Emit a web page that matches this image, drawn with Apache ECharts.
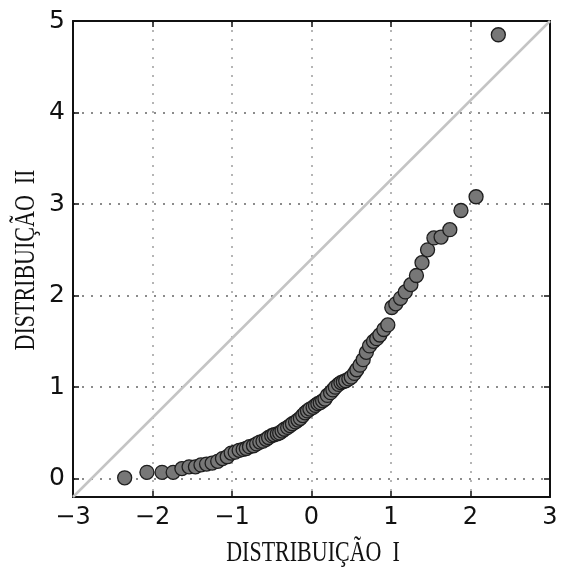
<!DOCTYPE html>
<html>
<head>
<meta charset="utf-8">
<script src="https://cdn.jsdelivr.net/npm/echarts@6/dist/echarts.min.js"></script>
<style>
html,body{margin:0;padding:0;background:#fff;}
#chart{width:563px;height:570px;}
</style>
</head>
<body>
<div id="chart"></div>
<script>
// Data
const xQuantiles = [-2.35,-2.07,-1.88,-1.74,-1.63,-1.54,-1.46,-1.39,-1.32,-1.25,-1.18,-1.12,-1.06,-1.01,-0.96,-0.91,-0.86,-0.82,-0.78,-0.73,-0.69,-0.65,-0.61,-0.57,-0.54,-0.50,-0.47,-0.43,-0.40,-0.37,-0.34,-0.30,-0.27,-0.24,-0.20,-0.17,-0.14,-0.11,-0.08,-0.05,-0.02,
  0.02,0.05,0.08,0.11,0.14,0.17,0.20,0.24,0.27,0.30,0.34,0.37,0.40,0.43,0.47,0.50,0.54,0.57,0.61,0.65,0.69,0.73,0.78,0.82,0.86,0.91,0.96,1.01,1.06,1.12,1.18,1.25,1.32,1.39,1.46,1.54,1.63,1.74,1.88,2.07,2.35];
const yValues = [0.01,0.07,0.07,0.07,0.11,0.13,0.13,0.15,0.16,0.17,0.19,0.22,0.24,0.28,0.29,0.31,0.32,0.33,0.35,0.36,0.38,0.40,0.41,0.43,0.45,0.47,0.48,0.49,0.50,0.52,0.54,0.56,0.58,0.60,0.62,0.64,0.66,0.69,0.72,0.74,0.76,
  0.78,0.80,0.82,0.83,0.85,0.87,0.91,0.94,0.97,1.00,1.03,1.05,1.06,1.07,1.09,1.11,1.15,1.19,1.24,1.30,1.38,1.45,1.50,1.53,1.57,1.63,1.68,1.87,1.91,1.97,2.04,2.12,2.22,2.36,2.50,2.63,2.64,2.72,2.93,3.08,4.85];
const refLineX = [-3, 3];
const refLineY = [-0.2, 5];
const xTicks = [-3,-2,-1,0,1,2,3];
const yTicks = [0,1,2,3,4,5];
const xTitle = 'DISTRIBUIÇÃO  I';
const yTitle = 'DISTRIBUIÇÃO  II';

const points = xQuantiles.map((x,i)=>[x,yValues[i]]);
const refLine = refLineX.map((x,i)=>[x,refLineY[i]]);
const fmt = v => String(v).replace('-', '\u2212');

const chart = echarts.init(document.getElementById('chart'), null, {renderer:'canvas'});
const axisLine = {show:true, onZero:false, lineStyle:{color:'#111', width:2}};
const tick = {show:true, inside:true, length:6, lineStyle:{color:'#111', width:1.5}};
chart.setOption({
  animation:false,
  backgroundColor:'#fff',
  grid:{left:73, right:13, top:21, bottom:73, containLabel:false},
  xAxis:[{
    type:'value', min:xTicks[0], max:xTicks[xTicks.length-1], interval:1, position:'bottom',
    axisLine, axisTick:tick,
    axisLabel:{formatter:fmt, fontFamily:'DejaVu Sans', fontSize:24, color:'#111', margin:9},
    splitLine:{show:true, lineStyle:{color:'#b5b5b5', width:2, type:[2,7]}}
  },{
    type:'value', min:xTicks[0], max:xTicks[xTicks.length-1], interval:1, position:'top',
    axisLine, axisTick:tick, axisLabel:{show:false}, splitLine:{show:false}
  }],
  yAxis:[{
    type:'value', min:refLineY[0], max:yTicks[yTicks.length-1], splitNumber:5, position:'left',
    axisLine, axisTick:tick,
    axisLabel:{formatter:fmt, fontFamily:'DejaVu Sans', fontSize:25, color:'#111', margin:8, showMinLabel:false},
    splitLine:{show:true, lineStyle:{color:'#666', width:1.5, type:[2,7]}}
  },{
    type:'value', min:refLineY[0], max:yTicks[yTicks.length-1], splitNumber:5, position:'right',
    axisLine, axisTick:tick, axisLabel:{show:false}, splitLine:{show:false}
  }],
  series:[{
    type:'line', data:refLine, showSymbol:false, symbol:'none', silent:true, z:2,
    lineStyle:{color:'#c4c4c4', width:2.5}
  },{
    type:'scatter', data:points, symbol:'circle', symbolSize:14, z:3,
    itemStyle:{color:'#777777', borderColor:'#1e1e1e', borderWidth:1.3, opacity:1}
  }],
  graphic:[{
    type:'text', x:313, y:553, scaleY:1.3,
    style:{text:xTitle, font:'22px "Liberation Serif"', fill:'#111', align:'center', verticalAlign:'middle'}
  },{
    type:'text', x:26, y:260, rotation:Math.PI/2, scaleY:1.3,
    style:{text:yTitle, font:'22px "Liberation Serif"', fill:'#111', align:'center', verticalAlign:'middle'}
  }]
});
</script>
</body>
</html>
